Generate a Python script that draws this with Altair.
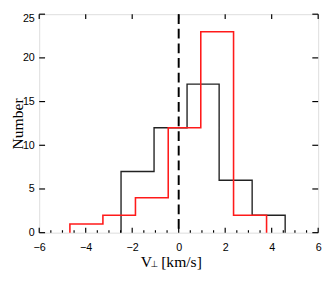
import altair as alt
import pandas as pd

# ---- data ----
black_edges = [-2.48, -1.06, 0.36, 1.74, 3.16, 4.58]
black_counts = [7, 12, 17, 6, 2]
red_edges = [-4.68, -3.26, -1.86, -0.45, 0.95, 2.36, 3.78]
red_counts = [1, 2, 4, 12, 23, 2]

x_major = [-6, -4, -2, 0, 2, 4, 6]
x_minor = [v / 2 for v in range(-12, 13) if v % 4 != 0]
y_major = [0, 5, 10, 15, 20, 25]
ref_x = [0]

x_title_parts = ["V", "⊥", "[km/s]"]
y_title = "Number"

W, H = 286, 224
PAD_TOP = 3


def step_path(edges, counts):
    rows = [(edges[0], 0)]
    for i, c in enumerate(counts):
        rows.append((edges[i], c))
        rows.append((edges[i + 1], c))
    rows.append((edges[-1], 0))
    return pd.DataFrame({"x": [r[0] for r in rows], "y": [r[1] for r in rows],
                         "o": list(range(len(rows)))})


black_df = step_path(black_edges, black_counts)
red_df = step_path(red_edges, red_counts)

xs = alt.Scale(domain=[-6, 6], nice=False, zero=False)
ys = alt.Scale(domain=[0, 25], nice=False, zero=False)

x_axis = alt.Axis(values=x_major, ticks=False, tickSize=0, domain=False, grid=False,
                  labelPadding=18, labelBaseline="alphabetic", labelFont="Liberation Sans",
                  labelFontSize=11, labelColor="#000", labelFlush=False, labelOverlap=False)
y_axis = alt.Axis(values=y_major, ticks=False, tickSize=0, domain=False, grid=False,
                  labelPadding=5, labelFont="Liberation Sans", labelFontSize=11,
                  labelColor="#000", labelFlush=False, labelOverlap=False,
                  labelOffset={"condition": {"test": "datum.value === 25", "value": 4},
                               "value": 0},
                  titleX=-17, titleY=H / 2, titleAngle=270,
                  titleBaseline="alphabetic", titleAlign="center",
                  titleFont="Liberation Serif", titleFontSize=16,
                  titleFontWeight="normal", titleColor="#000")


def X(field):
    return alt.X(field, scale=xs, axis=x_axis, title=None)


def Y(field):
    return alt.Y(field, scale=ys, axis=y_axis, title=y_title)


black = alt.Chart(black_df).mark_line(color="#222", strokeWidth=1.4).encode(
    x=X("x:Q"), y=Y("y:Q"), order="o:Q",
)
red = alt.Chart(red_df).mark_line(color="#ff1a1a", strokeWidth=1.6).encode(
    x=X("x:Q"), y=Y("y:Q"), order="o:Q",
)

dash = alt.Chart(pd.DataFrame({"x": ref_x, "y": [25], "y2": [0]})).mark_rule(
    color="#000", strokeWidth=2, strokeDash=[10, 5]).encode(
    x=X("x:Q"), y=Y("y:Q"), y2="y2:Q",
)

tick_style = dict(color="#000", strokeWidth=1.2)
xmaj_df = pd.DataFrame({"x": x_major})
xmin_df = pd.DataFrame({"x": x_minor})
ymaj_df = pd.DataFrame({"y": y_major})

bottom_major = alt.Chart(xmaj_df).mark_rule(**tick_style).encode(
    x=X("x:Q"), y=alt.value(H), y2=alt.value(H - 5))
bottom_minor = alt.Chart(xmin_df).mark_rule(**tick_style).encode(
    x=X("x:Q"), y=alt.value(H), y2=alt.value(H - 2.5))
top_major = alt.Chart(xmaj_df).mark_rule(**tick_style).encode(
    x=X("x:Q"), y=alt.value(0), y2=alt.value(5))
left_major = alt.Chart(ymaj_df).mark_rule(**tick_style).encode(
    y=Y("y:Q"), x=alt.value(0), x2=alt.value(6))
right_major = alt.Chart(ymaj_df).mark_rule(**tick_style).encode(
    y=Y("y:Q"), x=alt.value(W), x2=alt.value(W - 6))

# composite x-axis title: "V" + small perpendicular sign + "[km/s]"
title_base = H + 35
t_v = alt.Chart(pd.DataFrame({"t": [x_title_parts[0]]})).mark_text(
    font="Liberation Serif", fontSize=16, align="left", baseline="alphabetic",
    color="#000").encode(text="t:N", x=alt.value(104), y=alt.value(title_base))
t_perp = alt.Chart(pd.DataFrame({"t": [x_title_parts[1]]})).mark_text(
    font="DejaVu Sans", fontSize=9, align="left", baseline="alphabetic",
    color="#000").encode(text="t:N", x=alt.value(114), y=alt.value(title_base))
t_unit = alt.Chart(pd.DataFrame({"t": [x_title_parts[2]]})).mark_text(
    font="Liberation Serif", fontSize=16, align="left", baseline="alphabetic",
    color="#000").encode(text="t:N", x=alt.value(125), y=alt.value(title_base))

chart = alt.layer(
    black, bottom_major, bottom_minor, top_major, left_major, right_major, dash, red,
    t_v, t_perp, t_unit
).properties(
    width=W, height=H,
    autosize=alt.AutoSizeParams(type="none"),
    padding={"left": 32, "top": PAD_TOP, "right": 7, "bottom": 38},
).configure_view(stroke="#000", strokeWidth=1.5).configure(background="white")

chart.save("out.html", embed_options={"renderer": "svg", "actions": False})
